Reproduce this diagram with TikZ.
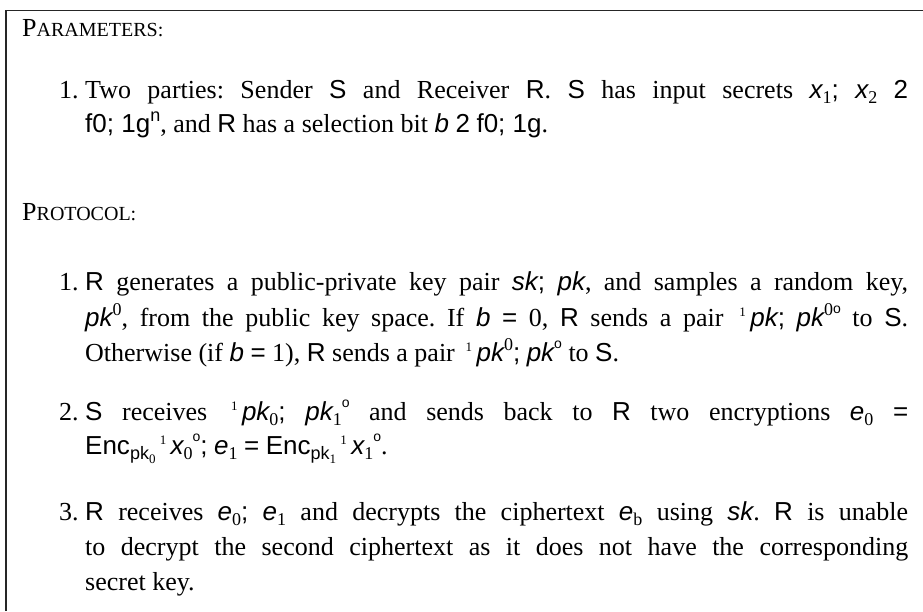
\documentclass[tikz,border=0pt]{standalone}
\usepackage{fontspec}
\setmainfont{Liberation Serif}
\newfontfamily\mathsans{Liberation Sans}
\frenchspacing
% glyph helpers for the formula pieces
\newcommand\vv[1]{{\mathsans\itshape #1}}
\newcommand\uu[1]{{\mathsans #1}}
\newcommand\lo[1]{\raisebox{-0.22em}{\fontsize{18}{18}\selectfont #1}}
\newcommand\llo[1]{\raisebox{-0.2em}{\fontsize{13}{13}\selectfont #1}}
\newcommand\hi[1]{\raisebox{0.42em}{\fontsize{18}{18}\selectfont #1}}
\newcommand\opn{\,\raisebox{0.38em}{\fontsize{13}{13}\selectfont 1}\,}
\newcommand\cls{\raisebox{0.5em}{\fontsize{14}{14}\selectfont\mathsans o}}
\newcommand\jline[1]{\makebox[823pt][s]{#1}}
\newcommand\smc[2]{#1{\fontsize{20}{20}\selectfont #2}}
\tikzset{
  ln/.style={anchor=base west, inner sep=0pt},
  frame/.style={line width=1.3pt, draw=black!85}
}
\begin{document}
\begin{tikzpicture}[x=1pt,y=-1pt,font=\fontsize{26}{35}\selectfont]
\useasboundingbox (0,0) rectangle (923,611);
\draw[frame] (6,611) -- (6,10.5) -- (923,10.5);

% parameters
\node[ln] (hpar) at (22,36) {\smc{P}{ARAMETERS:}};
\node[ln] (n1) at (59,98) {1.};
\node[ln] (p1a) at (85,98) {\jline{Two parties: Sender \uu{S} and Receiver \uu{R}. \uu{S} has input secrets \vv{x}\lo{1}\uu{;} \vv{x}\lo{2} \uu{2}}};
\node[ln] (p1b) at (85,132) {\uu{f0; 1g}\hi{\uu{n}}, and \uu{R} has a selection bit \vv{b} \uu{2} \uu{f0; 1g}.};

% protocol
\node[ln] (hpro) at (22,220) {\smc{P}{ROTOCOL:}};
\node[ln] (m1) at (59,290) {1.};
\node[ln] (q1a) at (85,290) {\jline{\uu{R} generates a public-private key pair \vv{sk}\uu{;} \vv{pk}, and samples a random key,}};
\node[ln] (q1b) at (85,326) {\jline{\vv{pk}\hi{0}, from the public key space. If \vv{b} \uu{=} 0, \uu{R} sends a pair \opn\vv{pk}\uu{;} \vv{pk}\hi{0}\cls{} to \uu{S}.}};
\node[ln] (q1c) at (85,361) {Otherwise (if \vv{b} \uu{=} 1), \uu{R} sends a pair \opn\vv{pk}\hi{0}\uu{;} \vv{pk}\cls{} to \uu{S}.};

\node[ln] (m2) at (59,420) {2.};
\node[ln] (q2a) at (85,420) {\jline{\uu{S} receives \opn\vv{pk}\lo{0}\uu{;} \vv{pk}\lo{1}\cls{} and sends back to \uu{R} two encryptions \vv{e}\lo{0} \uu{=}}};
\node[ln] (q2b) at (85,454) {\uu{Enc}\lo{\uu{pk}\llo{0}}\opn\vv{x}\lo{0}\cls\uu{;} \vv{e}\lo{1} \uu{=} \uu{Enc}\lo{\uu{pk}\llo{1}}\opn\vv{x}\lo{1}\cls.};

\node[ln] (m3) at (59,520) {3.};
\node[ln] (q3a) at (85,520) {\jline{\uu{R} receives \vv{e}\lo{0}\uu{;} \vv{e}\lo{1} and decrypts the ciphertext \vv{e}\lo{b} using \vv{sk}. \uu{R} is unable}};
\node[ln] (q3b) at (85,555) {\jline{to decrypt the second ciphertext as it does not have the corresponding}};
\node[ln] (q3c) at (85,590) {secret key.};
\end{tikzpicture}
\end{document}
